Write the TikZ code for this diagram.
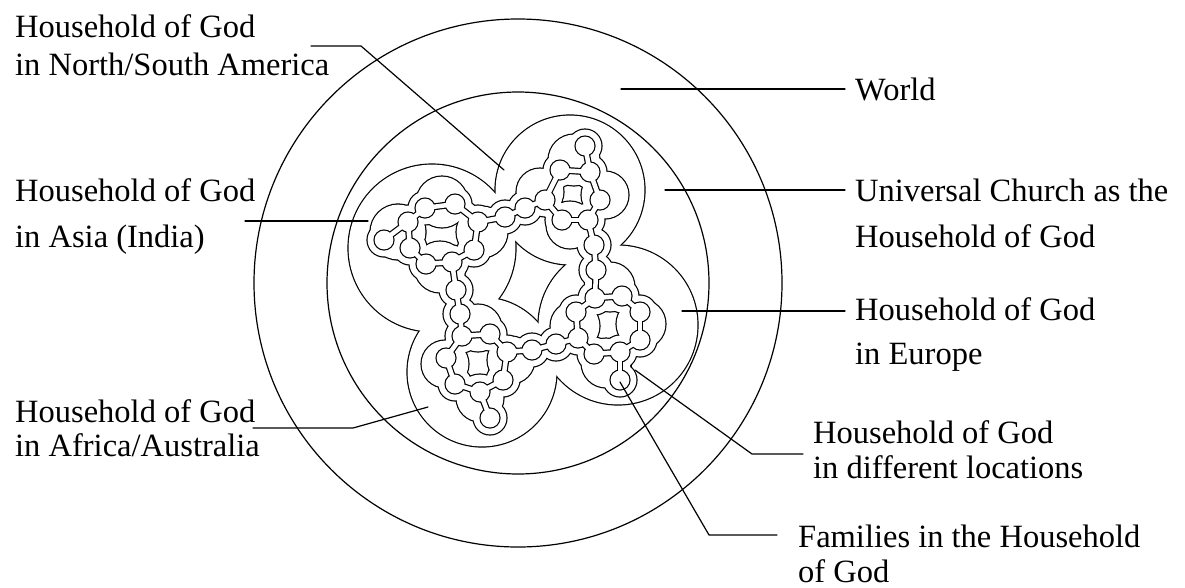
\documentclass[tikz,border=0pt]{standalone}
\usepackage{fontspec}
\setmainfont{Liberation Serif}
\begin{document}
\begin{tikzpicture}[x=1pt,y=-1pt,line join=round,line cap=round,
  lead/.style={line width=1.2pt},
  ringline/.style={line width=1.2pt},
  lbl/.style={anchor=base west,inner sep=0pt,font=\fontsize{32.5}{38}\selectfont}]
\useasboundingbox (0,0) rectangle (1185,587);
\fill[white] (0,0) rectangle (1185,587);
% ---------- data ----------
\def\conts{NA/570/190/75,EU/618/325/80,AF/482/372/75,AS/432/248/84}
\def\lobes{442/202/26,440/267/26,398/232/28,482/232/26,574/160/26,605/195/24,570/225/24,540/192/24,610/287/25,606/363/25,575/326/25,641/324/25,478/328/24,480/398/24,445/364/24,511/360/24}
\def\beads{A1/425/208,A2/455/204,A3/478/222,A4/474/250,A5/452/262,A6/426/264,A7/410/248,A8/408/222,A9/384/240,AN1/505/217,AN2/525/208,N1/585/146,N2/560/170,N3/590/172,N4/600/200,N5/588/220,N6/562/220,N7/545/200,NE1/594/245,NE2/596/270,E1/595/298,E2/622/296,E3/640/312,E4/640/340,E5/620/352,E6/594/354,E7/578/338,E8/576/312,E9/620/380,FE1/532/350,FE2/556/344,F1/462/336,F2/490/334,F3/507/352,F4/503/380,F5/480/392,F6/455/384,F7/446/358,F9/490/418,AF1/456/290,AF2/460/314}
\def\links{A1/A2,A2/A3,A3/A4,A4/A5,A5/A6,A6/A7,A7/A8,A8/A1,A8/A9,A3/AN1,AN1/AN2,AN2/N7,N2/N3,N3/N4,N4/N5,N5/N6,N6/N7,N7/N2,N3/N1,N5/NE1,NE1/NE2,NE2/E1,E1/E2,E2/E3,E3/E4,E4/E5,E5/E6,E6/E7,E7/E8,E8/E1,E5/E9,E7/FE2,FE2/FE1,FE1/F3,F1/F2,F2/F3,F3/F4,F4/F5,F5/F6,F6/F7,F7/F1,F5/F9,A5/AF1,AF1/AF2,AF2/F1}
\coordinate (ctr) at (518,283);
\foreach \n/\x/\y/\r in \conts {\coordinate (\n) at (\x,\y);}
\foreach \n/\x/\y in \beads {\coordinate (\n) at (\x,\y);}
% ---------- world and universal church ----------
\draw[ringline] (ctr) circle[radius=264pt];
\draw[ringline] (ctr) circle[radius=191pt];
% ---------- continents (outline of union) ----------
\foreach \n/\x/\y/\r in \conts {\pgfmathsetmacro\ra{\r+0.6}\fill[black] (\n) circle[radius=\ra pt];}
\foreach \n/\x/\y/\r in \conts {\pgfmathsetmacro\rb{\r-0.6}\fill[white] (\n) circle[radius=\rb pt];}
% ---------- locations (outline of union) ----------
\foreach \x/\y/\r in \lobes {\pgfmathsetmacro\ra{\r+0.6}\fill[black] (\x,\y) circle[radius=\ra pt];}
\foreach \n/\x/\y in \beads {\fill[black] (\n) circle[radius=17.6pt];}
\foreach \a/\b in \links {\draw[black,line width=23.2pt] (\a) -- (\b);}
\foreach \x/\y/\r in \lobes {\pgfmathsetmacro\rb{\r-0.6}\fill[white] (\x,\y) circle[radius=\rb pt];}
\foreach \n/\x/\y in \beads {\fill[white] (\n) circle[radius=16.4pt];}
\foreach \a/\b in \links {\draw[white,line width=20.8pt] (\a) -- (\b);}
% ---------- families (beads) ----------
\foreach \n/\x/\y in \beads {\fill[black] (\n) circle[radius=10.6pt];}
\foreach \a/\b in \links {\draw[black,line width=6.9pt] (\a) -- (\b);}
\foreach \n/\x/\y in \beads {\fill[white] (\n) circle[radius=9.4pt];}
\foreach \a/\b in \links {\draw[white,line width=4.5pt] (\a) -- (\b);}
% ---------- labels ----------
\node[lbl] (na1) at (15,37) {Household of God};
\node[lbl] (na2) at (15,75) {in North/South America};
\node[lbl] (as1) at (15,201) {Household of God};
\node[lbl] (as2) at (15,247) {in Asia (India)};
\node[lbl] (af1) at (15,422) {Household of God};
\node[lbl] (af2) at (15,456) {in Africa/Australia};
\node[lbl] (wo1) at (855,100) {World};
\node[lbl] (un1) at (855,201) {Universal Church as the};
\node[lbl] (un2) at (855,247) {Household of God};
\node[lbl] (eu1) at (855,320) {Household of God};
\node[lbl] (eu2) at (855,364) {in Europe};
\node[lbl] (lo1) at (813,443) {Household of God};
\node[lbl] (lo2) at (813,478) {in different locations};
\node[lbl] (fa1) at (798,547) {Families in the Household};
\node[lbl] (fa2) at (798,582) {of God};
% ---------- leader lines ----------
\coordinate (naS) at (311,46); \coordinate (naC) at (361,46); \coordinate (naE) at (504,170);
\coordinate (woS) at (621,89); \coordinate (woE) at (845,89);
\coordinate (unS) at (665,190); \coordinate (unE) at (845,190);
\coordinate (euS) at (682,311); \coordinate (euE) at (845,311);
\coordinate (loS) at (635,370); \coordinate (loC) at (752,454); \coordinate (loE) at (803,454);
\coordinate (faS) at (620,382); \coordinate (faC) at (709,535); \coordinate (faE) at (777,535);
\coordinate (afS) at (253,428); \coordinate (afC) at (353,428); \coordinate (afE) at (428,407);
\coordinate (asS) at (245,221); \coordinate (asE) at (368,221);
\draw[lead] (naS) -- (naC) -- (naE);
\draw[lead] (woS) -- (woE);
\draw[lead] (unS) -- (unE);
\draw[lead] (euS) -- (euE);
\draw[lead] (loS) -- (loC) -- (loE);
\draw[lead] (faS) -- (faC) -- (faE);
\draw[lead] (afS) -- (afC) -- (afE);
\draw[lead] (asS) -- (asE);
\end{tikzpicture}
\end{document}
